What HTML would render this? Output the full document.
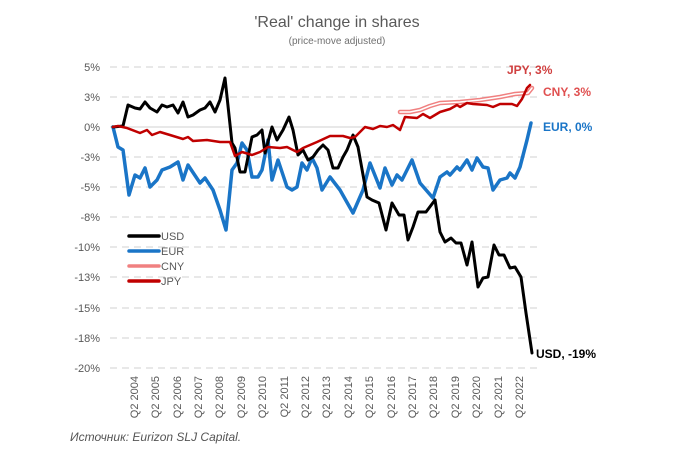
<!DOCTYPE html>
<html><head><meta charset="utf-8"><style>
html,body{margin:0;padding:0;background:#fff;}
svg{display:block;font-family:"Liberation Sans",sans-serif;}
</style></head><body>
<svg width="675" height="449" viewBox="0 0 675 449" xmlns="http://www.w3.org/2000/svg">
<text x="337" y="27" text-anchor="middle" font-size="16" fill="#595959">'Real' change in shares</text>
<text x="337" y="44" text-anchor="middle" font-size="10" fill="#707070">(price-move adjusted)</text>
<g stroke="#d9d9d9" stroke-width="1.2" stroke-dasharray="7,5">
<line x1="110" x2="540" y1="67" y2="67"/><line x1="110" x2="540" y1="97" y2="97"/>
<line x1="110" x2="540" y1="157" y2="157"/><line x1="110" x2="540" y1="187" y2="187"/>
<line x1="110" x2="540" y1="217" y2="217"/><line x1="110" x2="540" y1="247" y2="247"/>
<line x1="110" x2="540" y1="277" y2="277"/><line x1="110" x2="540" y1="308" y2="308"/>
<line x1="110" x2="540" y1="338" y2="338"/><line x1="110" x2="540" y1="368" y2="368"/>
</g>
<line x1="110" x2="540" y1="127" y2="127" stroke="#d9d9d9" stroke-width="1.2"/>
<g font-size="11" fill="#595959" text-anchor="end">
<text x="100" y="71">5%</text><text x="100" y="101">3%</text><text x="100" y="131">0%</text>
<text x="100" y="161">-3%</text><text x="100" y="191">-5%</text><text x="100" y="221">-8%</text>
<text x="100" y="251">-10%</text><text x="100" y="281">-13%</text><text x="100" y="312">-15%</text>
<text x="100" y="342">-18%</text><text x="100" y="372">-20%</text>
</g>
<g font-size="11" fill="#595959" text-anchor="end">
<text transform="translate(138,376) rotate(-90)">Q2 2004</text>
<text transform="translate(159,376) rotate(-90)">Q2 2005</text>
<text transform="translate(181,376) rotate(-90)">Q2 2006</text>
<text transform="translate(202,376) rotate(-90)">Q2 2007</text>
<text transform="translate(223,376) rotate(-90)">Q2 2008</text>
<text transform="translate(245,376) rotate(-90)">Q2 2009</text>
<text transform="translate(266,376) rotate(-90)">Q2 2010</text>
<text transform="translate(288,376) rotate(-90)">Q2 2011</text>
<text transform="translate(309,376) rotate(-90)">Q2 2012</text>
<text transform="translate(330,376) rotate(-90)">Q2 2013</text>
<text transform="translate(352,376) rotate(-90)">Q2 2014</text>
<text transform="translate(373,376) rotate(-90)">Q2 2015</text>
<text transform="translate(395,376) rotate(-90)">Q2 2016</text>
<text transform="translate(416,376) rotate(-90)">Q2 2017</text>
<text transform="translate(437,376) rotate(-90)">Q2 2018</text>
<text transform="translate(459,376) rotate(-90)">Q2 2019</text>
<text transform="translate(480,376) rotate(-90)">Q2 2020</text>
<text transform="translate(502,376) rotate(-90)">Q2 2021</text>
<text transform="translate(523,376) rotate(-90)">Q2 2022</text>
</g>
<g fill="none" stroke-linejoin="round" stroke-linecap="round">
<polyline stroke="#1a75c7" stroke-width="3.5" points="113,127 118,147 123,150 129,195 135,175 140,178 145,168 150,187 157,180 162,170 170,167 178,162 183,180 188,165 200,183 205,178 213,190 220,210 226,230 232,170 237,163 242,143 247,150 252,177 258,177 262,170 268,140 272,180 278,160 287,187 292,190 297,187 302,163 307,170 312,158 317,168 322,190 330,177 340,190 353,213 363,190 370,163 380,188 385,168 392,185 397,175 402,180 412,160 420,183 433,198 440,177 447,172 450,175 457,167 460,170 467,160 472,170 477,158 483,167 488,168 493,190 500,180 507,178 510,173 515,178 520,167 527,140 531,123"/>
<polyline stroke="#000" stroke-width="3" points="113,127 123,126 128,105 135,108 140,109 145,102 150,108 157,112 162,105 167,107 173,105 178,113 183,102 188,117 193,115 200,110 205,108 210,102 215,112 220,100 225,78 232,143 235,148 240,172 245,172 252,137 257,135 262,130 265,153 272,127 277,140 283,130 289,117 293,130 298,155 303,150 308,160 313,157 318,150 323,145 328,150 333,168 338,168 343,157 347,150 353,135 358,147 367,197 372,200 379,203 386,230 392,203 399,215 404,215 408,240 413,227 418,212 426,212 435,200 440,232 445,242 451,238 456,243 461,243 467,265 472,242 478,287 483,278 488,277 494,245 499,255 504,255 510,268 515,267 521,277 526,313 532,353"/>
<polyline stroke="#f08080" stroke-width="4.5" points="400,112 410,112 420,110 430,106 440,103 460,102 480,100 500,97 515,94 528,93 532,88"/>
<polyline stroke="#fff" stroke-width="1.5" points="400,112 410,112 420,110 430,106 440,103 460,102 480,100 500,97 515,94 528,93 532,88"/>
<polyline stroke="#c00000" stroke-width="2.5" points="113,127 118,126 127,128 140,133 147,130 152,135 160,132 170,135 183,139 188,137 193,141 207,140 220,142 230,142 235,156 242,152 252,155 260,152 268,147 280,148 287,147 297,152 303,148 317,142 330,136 343,136 350,138 355,137 365,127 373,129 380,126 387,127 393,125 400,130 405,117 417,118 423,114 430,118 440,112 450,109 457,105 460,107 467,103 473,104 487,105 493,107 500,104 512,104 517,106 522,99 527,88 530,85"/>
</g>
<g stroke-width="3.5" stroke-linecap="round">
<line x1="129" x2="159" y1="236" y2="236" stroke="#000"/>
<line x1="129" x2="159" y1="251" y2="251" stroke="#1a75c7"/>
<line x1="129" x2="159" y1="266" y2="266" stroke="#f08080"/>
<line x1="129" x2="159" y1="281" y2="281" stroke="#c00000"/>
</g>
<g font-size="11" fill="#595959">
<text x="161" y="240">USD</text><text x="161" y="255">EUR</text>
<text x="161" y="270">CNY</text><text x="161" y="285">JPY</text>
</g>
<g font-size="12" font-weight="bold">
<text x="507" y="74" fill="#d04040">JPY, 3%</text>
<text x="543" y="96" fill="#e05050">CNY, 3%</text>
<text x="543" y="131" fill="#1a75c7">EUR, 0%</text>
<text x="536" y="358" fill="#000">USD, -19%</text>
</g>
<text x="70" y="441" font-size="12" font-style="italic" fill="#555">Источник: Eurizon SLJ Capital.</text>
</svg>
</body></html>
